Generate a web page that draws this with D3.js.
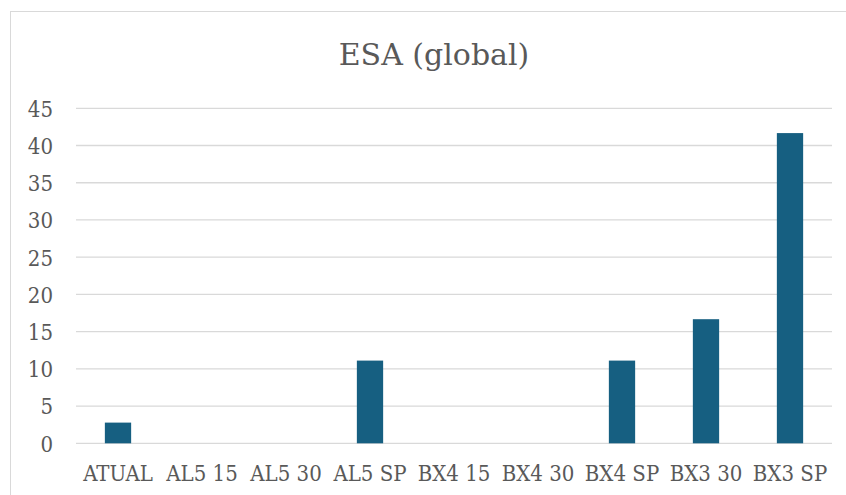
<!DOCTYPE html>
<html>
<head>
<meta charset="utf-8">
<script src="https://cdn.jsdelivr.net/npm/d3@7"></script>
<style>
  html, body { margin: 0; padding: 0; background: #fff; }
  svg { display: block; }
  text { font-family: "DejaVu Serif Condensed", "DejaVu Serif", serif; font-stretch: condensed; fill: #595959; }
</style>
</head>
<body>
<svg id="chart" width="846" height="495"></svg>
<script>
// Scenario labels along the x axis
const categories = ["ATUAL", "AL5 15", "AL5 30", "AL5 SP", "BX4 15", "BX4 30", "BX4 SP", "BX3 30", "BX3 SP"];
// ESA (global) value for each scenario
const values = [2.78, 0, 0, 11.11, 0, 0, 11.11, 16.67, 41.67];
// Y axis ticks
const yTicks = [0, 5, 10, 15, 20, 25, 30, 35, 40, 45];
const title = "ESA (global)";

const FONT = "'DejaVu Serif Condensed', 'DejaVu Serif', serif";
const svg = d3.select("#chart");
const plot = { left: 76, right: 832, top: 108.3, bottom: 443.3 };

// Outer chart frame (partially cut by the page edge)
svg.append("rect")
  .attr("x", 10.5).attr("y", 11.5)
  .attr("width", 900).attr("height", 600)
  .attr("fill", "#fff")
  .attr("stroke", "#d9d9d9").attr("stroke-width", 1);

const x = d3.scaleBand()
  .domain(categories)
  .range([plot.left, plot.right])
  .paddingInner(0.687).paddingOuter(0.3435);

const y = d3.scaleLinear()
  .domain([0, 45])
  .range([plot.bottom, plot.top]);

// Horizontal gridlines
svg.append("g")
  .selectAll("line")
  .data(yTicks)
  .join("line")
  .attr("x1", plot.left).attr("x2", plot.right)
  .attr("y1", d => y(d)).attr("y2", d => y(d))
  .attr("stroke", "#d9d9d9").attr("stroke-width", 1.3);

// Y axis labels
const yAxis = d3.axisLeft(y).tickValues(yTicks).tickSize(0).tickPadding(0);
const gy = svg.append("g")
  .attr("transform", `translate(${plot.left - 23},0)`)
  .call(yAxis);
gy.select(".domain").remove();
gy.selectAll("text")
  .attr("font-size", 22)
  .attr("fill", "#595959")
  .attr("dy", "0.36em")
  .style("font-family", FONT)
  .style("font-stretch", "condensed");

// Bars
svg.append("g")
  .selectAll("rect")
  .data(values)
  .join("rect")
  .attr("x", (d, i) => x(categories[i]))
  .attr("width", x.bandwidth())
  .attr("y", d => y(d))
  .attr("height", d => y(0) - y(d))
  .attr("fill", "#165f81");

// X axis labels
const xAxis = d3.axisBottom(x).tickSize(0).tickPadding(0);
const gx = svg.append("g")
  .attr("transform", `translate(0,${plot.bottom})`)
  .call(xAxis);
gx.select(".domain").remove();
gx.selectAll("text")
  .attr("font-size", 22)
  .attr("fill", "#595959")
  .attr("y", 38)
  .attr("dy", 0)
  .style("font-family", FONT)
  .style("font-stretch", "condensed");

// Title
svg.append("text")
  .attr("x", 434).attr("y", 64.5)
  .attr("text-anchor", "middle")
  .attr("font-size", 30)
  .style("font-family", "'DejaVu Serif', serif")
  .style("font-stretch", "normal")
  .text(title);
</script>
</body>
</html>
